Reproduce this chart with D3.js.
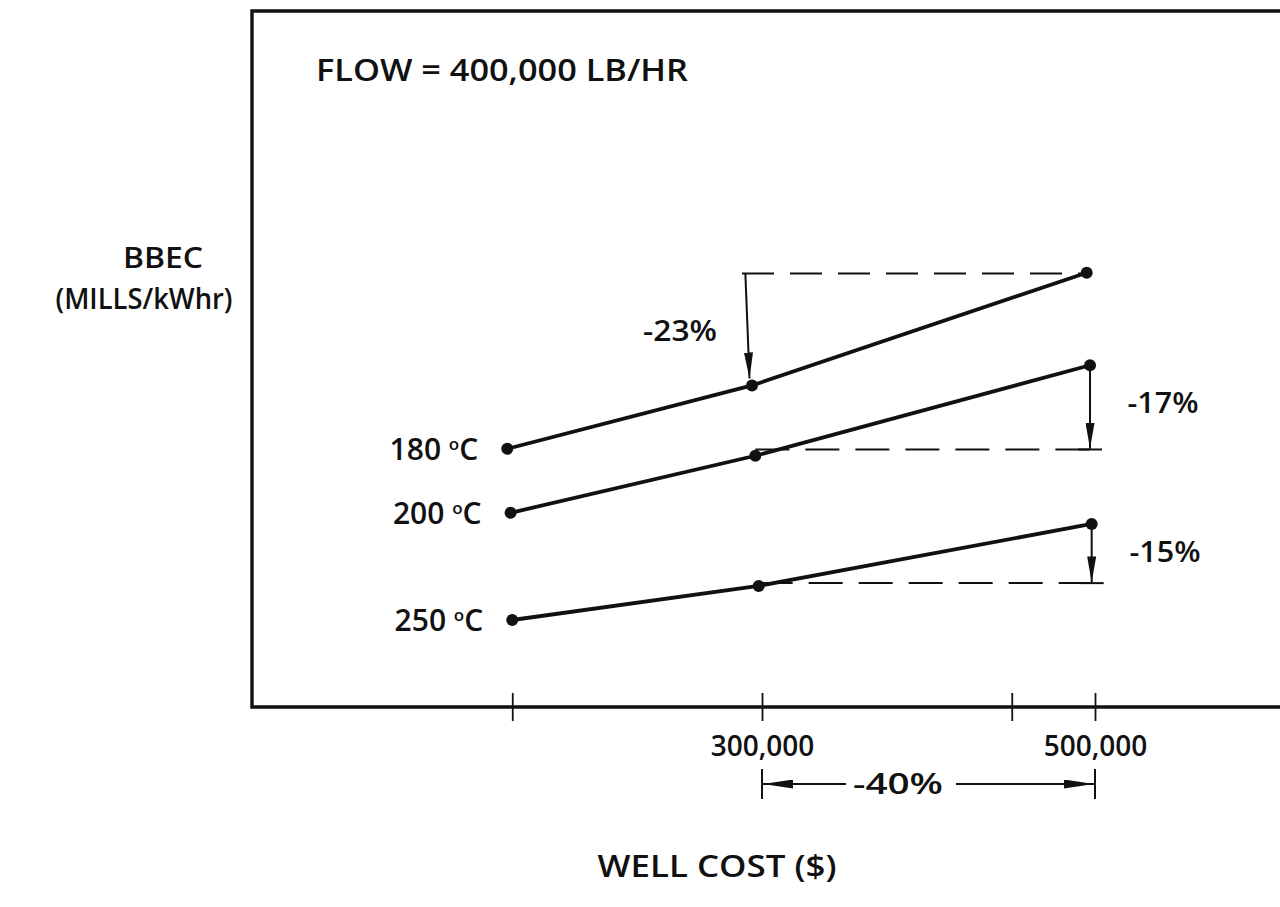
<!DOCTYPE html>
<html>
<head>
<meta charset="utf-8">
<script src="https://cdn.jsdelivr.net/npm/d3@7"></script>
<style>
  html, body { margin: 0; padding: 0; background: #fff; }
  svg { display: block; }
  text { font-family: "Open Sans", "DejaVu Sans", sans-serif; fill: #111; font-weight: 600; }
</style>
</head>
<body>
<svg id="chart" width="1280" height="907"></svg>
<script>
// ---- data (schematic chart, no y scale shown) ----
const seriesNames = ["180", "200", "250"];
const wellCost180 = [147000, 294000, 495000];
const bbec180     = [37.1, 46.2, 62.4];
const wellCost200 = [149000, 296000, 497000];
const bbec200     = [27.9, 36.1, 49.1];
const wellCost250 = [150000, 298000, 498000];
const bbec250     = [12.5, 17.4, 26.3];

const tickValues = [150000, 300000, 450000, 500000];
const tickLabels = ["", "300,000", "", "500,000"];

// change annotations: reference level, arrow start/end, label
const changeLabels = ["-23%", "-17%", "-15%"];
const refLevels    = [62.3, 37.0, 17.8];
const refStart     = [288000, 296000, 298000];
const refEnd       = [495000, 504000, 507000];
const arrowCost    = [[290000, 292500], [497000, 497000], [498000, 498000]];
const arrowFrom    = [62.3, 49.1, 26.3];
const arrowTo      = [47.2, 37.1, 17.9];

const costChangeLabel = "-40%";
const costChangeFrom = 300000, costChangeTo = 500000;

// ---- layout ----
const svg = d3.select("#chart");
const frame = { left: 252, top: 11, right: 1290, bottom: 707 };

const x = d3.scaleLinear().domain([300000, 500000]).range([762, 1095]);
const y = d3.scaleLinear().domain([0, 100]).range([frame.bottom, frame.top]);

const ink = "#111";

// frame (left, top, bottom; right side runs off the page)
svg.append("path")
  .attr("d", `M${frame.right},${frame.top} L${frame.left},${frame.top} L${frame.left},${frame.bottom} L${frame.right},${frame.bottom}`)
  .attr("fill", "none").attr("stroke", ink).attr("stroke-width", 3.4);

// x axis ticks via d3 axis
const xAxis = d3.axisBottom(x)
  .tickValues(tickValues)
  .tickSize(0)
  .tickFormat((d, i) => tickLabels[i]);
const gx = svg.append("g").attr("transform", `translate(0,${frame.bottom})`).call(xAxis);
gx.select(".domain").remove();
gx.selectAll(".tick").append("line")
  .attr("y1", -14).attr("y2", 14).attr("stroke", ink).attr("stroke-width", 1.8);
gx.selectAll(".tick text")
  .attr("y", 49).attr("dy", 0)
  .style("font-size", "28px").style("font-weight", "600")
  .style("font-family", "'Open Sans', sans-serif").attr("fill", ink);

// arrow markers (long narrow heads)
const defs = svg.append("defs");
defs.append("marker").attr("id", "arrowV")
  .attr("viewBox", "0 0 10 10").attr("preserveAspectRatio", "none")
  .attr("refX", 10).attr("refY", 5)
  .attr("markerWidth", 26).attr("markerHeight", 9).attr("markerUnits", "userSpaceOnUse")
  .attr("orient", "auto")
  .append("path").attr("d", "M0,0 L10,5 L0,10 Z").attr("fill", ink);
defs.append("marker").attr("id", "arrowH")
  .attr("viewBox", "0 0 10 10").attr("preserveAspectRatio", "none")
  .attr("refX", 10).attr("refY", 5)
  .attr("markerWidth", 30).attr("markerHeight", 9).attr("markerUnits", "userSpaceOnUse")
  .attr("orient", "auto")
  .append("path").attr("d", "M0,0 L10,5 L0,10 Z").attr("fill", ink);

// series
const series = [
  { name: seriesNames[0], cost: wellCost180, val: bbec180 },
  { name: seriesNames[1], cost: wellCost200, val: bbec200 },
  { name: seriesNames[2], cost: wellCost250, val: bbec250 }
];
const line = d3.line().x(d => x(d[0])).y(d => y(d[1]));

series.forEach(s => {
  const pts = s.cost.map((c, i) => [c, s.val[i]]);
  svg.append("path").datum(pts).attr("d", line)
    .attr("fill", "none").attr("stroke", ink).attr("stroke-width", 3.8)
    .attr("stroke-linecap", "round");
  svg.selectAll(null).data(pts).enter().append("circle")
    .attr("cx", d => x(d[0])).attr("cy", d => y(d[1])).attr("r", 6).attr("fill", ink);
  const t = svg.append("text")
    .attr("x", x(pts[0][0]) - 29).attr("y", y(pts[0][1]))
    .attr("dy", "0.36em").attr("text-anchor", "end")
    .style("font-size", "30px");
  t.append("tspan").text(s.name + " ");
  t.append("tspan").text("o").attr("dy", -10).style("font-size", "17px");
  t.append("tspan").text("C").attr("dy", 10);
});

// change annotations
changeLabels.forEach((lab, i) => {
  svg.append("line")
    .attr("x1", x(refStart[i])).attr("x2", x(refEnd[i]))
    .attr("y1", y(refLevels[i])).attr("y2", y(refLevels[i]))
    .attr("stroke", ink).attr("stroke-width", 2)
    .attr("stroke-dasharray", i === 0 ? "32,16" : "34,16");
  svg.append("line")
    .attr("x1", x(arrowCost[i][0])).attr("y1", y(arrowFrom[i]))
    .attr("x2", x(arrowCost[i][1])).attr("y2", y(arrowTo[i]))
    .attr("stroke", ink).attr("stroke-width", 2)
    .attr("marker-end", "url(#arrowV)");
});
// short solid bars under the two right arrows
[1, 2].forEach(i => {
  svg.append("line")
    .attr("x1", x(arrowCost[i][1]) - 12).attr("x2", x(arrowCost[i][1]) + 12)
    .attr("y1", y(refLevels[i])).attr("y2", y(refLevels[i]))
    .attr("stroke", ink).attr("stroke-width", 2);
});

const pctText = (tx, ty, s, w) => svg.append("text").attr("x", tx).attr("y", ty).attr("dy", "0.36em")
  .attr("text-anchor", "middle").style("font-size", "29px")
  .attr("textLength", w).attr("lengthAdjust", "spacingAndGlyphs").text(s);
pctText(680, 331, changeLabels[0], 74);
pctText(1163, 403, changeLabels[1], 71);
pctText(1165, 552, changeLabels[2], 71);

// well cost change -40%
const yArr = 784;
[costChangeFrom, costChangeTo].forEach(v => {
  svg.append("line").attr("x1", x(v)).attr("x2", x(v))
    .attr("y1", yArr - 15).attr("y2", yArr + 15).attr("stroke", ink).attr("stroke-width", 2);
});
svg.append("line").attr("x1", 846).attr("x2", x(costChangeFrom) + 1)
  .attr("y1", yArr).attr("y2", yArr).attr("stroke", ink).attr("stroke-width", 2)
  .attr("marker-end", "url(#arrowH)");
svg.append("line").attr("x1", 956).attr("x2", x(costChangeTo) - 1)
  .attr("y1", yArr).attr("y2", yArr).attr("stroke", ink).attr("stroke-width", 2)
  .attr("marker-end", "url(#arrowH)");
pctText(898, yArr, costChangeLabel, 90);

// titles
svg.append("text").attr("x", 316).attr("y", 70).attr("dy", "0.36em")
  .style("font-size", "31px")
  .attr("textLength", 372).attr("lengthAdjust", "spacingAndGlyphs")
  .text("FLOW = 400,000 LB/HR");
svg.append("text").attr("x", 163).attr("y", 258).attr("dy", "0.36em")
  .attr("text-anchor", "middle").style("font-size", "29px")
  .attr("textLength", 80).attr("lengthAdjust", "spacingAndGlyphs")
  .text("BBEC");
svg.append("text").attr("x", 144).attr("y", 299).attr("dy", "0.36em")
  .attr("text-anchor", "middle").style("font-size", "29px")
  .attr("textLength", 177).attr("lengthAdjust", "spacingAndGlyphs")
  .text("(MILLS/kWhr)");
svg.append("text").attr("x", 717).attr("y", 866).attr("dy", "0.36em")
  .attr("text-anchor", "middle").style("font-size", "31px")
  .attr("textLength", 239).attr("lengthAdjust", "spacingAndGlyphs")
  .text("WELL COST ($)");
</script>
</body>
</html>
